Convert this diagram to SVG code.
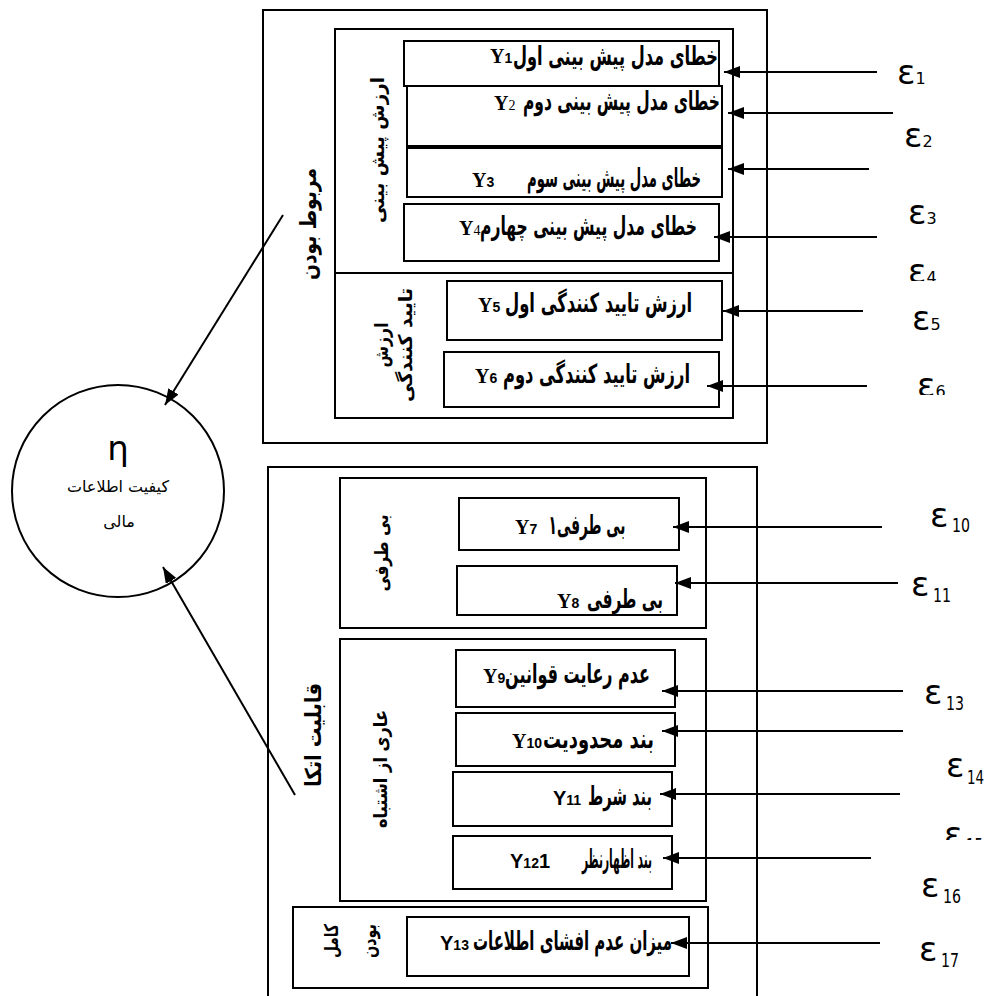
<svg xmlns="http://www.w3.org/2000/svg" width="995" height="996" viewBox="0 0 995 996">
<style>
.box{fill:none;stroke:#000;stroke-width:2}
.ln{stroke:#000;stroke-width:2;fill:none}
.ar{font-family:"DejaVu Sans",sans-serif;font-weight:bold;font-size:21px}
.y{font-family:"Liberation Serif",serif;font-weight:bold;font-size:20px}
.ys{font-family:"Liberation Sans",sans-serif;font-weight:bold;font-size:20px}
.sub{font-family:"Liberation Sans",sans-serif;font-weight:bold;font-size:14px}
.subs{font-family:"Liberation Serif",serif;font-weight:normal;font-size:14px}
.vl{font-family:"DejaVu Sans",sans-serif;font-weight:bold;font-size:19px}
.vlb{font-family:"DejaVu Sans",sans-serif;font-weight:bold;font-size:22px}
.eps{font-family:"DejaVu Sans",sans-serif;font-size:34px}
.es{font-size:16px}
.eb{font-family:"DejaVu Sans",sans-serif;font-size:20px}
.circ{font-family:"DejaVu Sans",sans-serif;font-size:16px}
</style>
<defs>
<marker id="ah" markerUnits="userSpaceOnUse" markerWidth="16" markerHeight="12" refX="16" refY="6" orient="auto"><path d="M0,0 L16,6 L0,12 z" fill="#000"/></marker>
<clipPath id="c3"><rect x="880" y="180" width="100" height="47"/></clipPath>
<clipPath id="c4"><rect x="880" y="240" width="100" height="41"/></clipPath>
<clipPath id="c5"><rect x="880" y="290" width="100" height="40"/></clipPath>
<clipPath id="c6"><rect x="880" y="360" width="100" height="35"/></clipPath>
<clipPath id="c15"><rect x="920" y="800" width="70" height="40"/></clipPath>
</defs>
<rect width="995" height="996" fill="#fff"/>

<g id="relevance">
<rect class="box" x="263" y="10" width="504" height="433"/>
<text class="vlb" text-anchor="middle" transform="translate(316,224) rotate(-90)" textLength="112" lengthAdjust="spacingAndGlyphs">مربوط بودن</text>
</g>
<g id="predictive-value">
<rect class="box" x="335" y="29" width="398" height="389"/>
<line class="ln" x1="335" y1="273" x2="733" y2="273"/>
<text class="vl" text-anchor="middle" transform="translate(384,150) rotate(-90)" textLength="146" lengthAdjust="spacingAndGlyphs">ارزش پیش بینی</text>
</g>
<g id="confirmatory-value">
<text class="vl" text-anchor="middle" transform="translate(388,345) rotate(-90)" textLength="45" lengthAdjust="spacingAndGlyphs">ارزش</text>
<text class="vl" text-anchor="middle" transform="translate(412,345) rotate(-90)" textLength="114" lengthAdjust="spacingAndGlyphs">تایید کنندگی</text>
</g>
<g id="y1">
<rect class="box" x="404" y="41" width="315" height="45"/>
<text class="ar" x="615.5" y="0" transform="translate(0,65) scale(1,1.25)" text-anchor="middle" textLength="205" lengthAdjust="spacingAndGlyphs">خطای مدل پیش بینی اول</text>
<text class="y" x="490" y="63">Y<tspan class="sub">1</tspan></text>
</g>
<g id="y2">
<rect class="box" x="407" y="86" width="315" height="60"/>
<text class="ar" x="621.5" y="0" transform="translate(0,110) scale(1,1.25)" text-anchor="middle" textLength="197" lengthAdjust="spacingAndGlyphs">خطای مدل پیش بینی دوم</text>
<text class="y" x="494" y="110">Y<tspan class="subs">2</tspan></text>
</g>
<g id="y3">
<rect class="box" x="407" y="148" width="315" height="49"/>
<text class="ar" x="614" y="0" transform="translate(0,187) scale(1,1.25)" text-anchor="middle" textLength="174" lengthAdjust="spacingAndGlyphs">خطای مدل پیش بینی سوم</text>
<text class="y" x="472" y="187">Y<tspan class="sub">3</tspan></text>
</g>
<g id="y4">
<rect class="box" x="404" y="204" width="315" height="57"/>
<text class="ar" x="588.5" y="0" transform="translate(0,235) scale(1,1.25)" text-anchor="middle" textLength="217" lengthAdjust="spacingAndGlyphs">خطای مدل پیش بینی چهارم</text>
<text class="y" x="459" y="235">Y<tspan class="subs">4</tspan></text>
</g>
<g id="y5">
<rect class="box" x="447" y="281" width="275" height="59"/>
<text class="ar" x="598.5" y="0" transform="translate(0,312) scale(1,1.25)" text-anchor="middle" textLength="187" lengthAdjust="spacingAndGlyphs">ارزش تایید کنندگی اول</text>
<text class="y" x="478" y="312">Y<tspan class="sub">5</tspan></text>
</g>
<g id="y6">
<rect class="box" x="444" y="352" width="275" height="55"/>
<text class="ar" x="596.5" y="0" transform="translate(0,383) scale(1,1.25)" text-anchor="middle" textLength="187" lengthAdjust="spacingAndGlyphs">ارزش تایید کنندگی دوم</text>
<text class="y" x="475" y="383">Y<tspan class="sub">6</tspan></text>
</g>

<g id="reliability">
<rect class="box" x="268" y="467" width="489" height="540"/>
<text class="vlb" text-anchor="middle" transform="translate(321,735) rotate(-90)" textLength="104" lengthAdjust="spacingAndGlyphs">قابلیت اتکا</text>
</g>
<g id="neutrality">
<rect class="box" x="340" y="478" width="366" height="150"/>
<text class="vl" text-anchor="middle" transform="translate(388,553) rotate(-90)" textLength="77" lengthAdjust="spacingAndGlyphs">بی طرفی</text>
</g>
<g id="free-from-error">
<rect class="box" x="340" y="639" width="366" height="262"/>
<text class="vl" text-anchor="middle" transform="translate(387,769) rotate(-90)" textLength="118" lengthAdjust="spacingAndGlyphs">عاری از اشتباه</text>
</g>
<g id="completeness">
<rect class="box" x="293" y="907" width="415" height="81"/>
<text class="vl" text-anchor="middle" transform="translate(338,941) rotate(-90)" textLength="34" lengthAdjust="spacingAndGlyphs">کامل</text>
<text class="vl" text-anchor="middle" transform="translate(376,941) rotate(-90)" textLength="34" lengthAdjust="spacingAndGlyphs">بودن</text>
</g>
<g id="y7">
<rect class="box" x="459" y="498" width="220" height="52"/>
<text class="ar" x="587" y="0" transform="translate(0,534) scale(1,1.25)" text-anchor="middle" textLength="77" lengthAdjust="spacingAndGlyphs">بی طرفی۱</text>
<text class="y" x="515" y="534">Y<tspan class="sub">7</tspan></text>
</g>
<g id="y8">
<rect class="box" x="457" y="566" width="220" height="49"/>
<text class="ar" x="625" y="0" transform="translate(0,608) scale(1,1.25)" text-anchor="middle" textLength="76" lengthAdjust="spacingAndGlyphs">بی طرفی</text>
<text class="y" x="557" y="608">Y<tspan class="sub">8</tspan></text>
</g>
<g id="y9">
<rect class="box" x="456" y="650" width="219" height="57"/>
<text class="ar" x="577.5" y="0" transform="translate(0,683) scale(1,1.25)" text-anchor="middle" textLength="145" lengthAdjust="spacingAndGlyphs">عدم رعایت قوانین</text>
<text class="y" x="483" y="683">Y<tspan class="sub">9</tspan></text>
</g>
<g id="y10">
<rect class="box" x="456" y="713" width="219" height="53"/>
<text class="ar" x="598.5" y="0" transform="translate(0,748) scale(1,1.25)" text-anchor="middle" textLength="111" lengthAdjust="spacingAndGlyphs">بند محدودیت</text>
<text class="y" x="512" y="748">Y<tspan class="sub">10</tspan></text>
</g>
<g id="y11">
<rect class="box" x="453" y="772" width="219" height="54"/>
<text class="ar" x="620" y="0" transform="translate(0,805) scale(1,1.25)" text-anchor="middle" textLength="64" lengthAdjust="spacingAndGlyphs">بند شرط</text>
<text class="ys" x="553" y="805">Y<tspan class="sub">11</tspan></text>
</g>
<g id="y12">
<rect class="box" x="453" y="836" width="219" height="53"/>
<text class="ar" x="617" y="0" transform="translate(0,868) scale(1,1.25)" text-anchor="middle" textLength="70" lengthAdjust="spacingAndGlyphs">بند اظهارنظر</text>
<text class="ys" x="510" y="868">Y<tspan class="sub">12</tspan>1</text>
</g>
<g id="y13">
<rect class="box" x="407" y="917" width="282" height="59"/>
<text class="ar" x="572.5" y="0" transform="translate(0,950) scale(1,1.25)" text-anchor="middle" textLength="199" lengthAdjust="spacingAndGlyphs">میزان عدم افشای اطلاعات</text>
<text class="ys" x="440" y="950">Y<tspan class="sub">13</tspan></text>
</g>

<g id="eta">
<circle cx="118" cy="491" r="106" fill="none" stroke="#000" stroke-width="2"/>
<text class="eps" x="118" y="460" text-anchor="middle">η</text>
<text class="circ" x="118" y="492" text-anchor="middle" textLength="102" lengthAdjust="spacingAndGlyphs">کیفیت اطلاعات</text>
<text class="circ" x="119" y="527" text-anchor="middle">مالی</text>
</g>

<g id="errors">
<text class="eps" x="897" y="84">ε<tspan class="es">1</tspan></text>
<text class="eps" x="904" y="147">ε<tspan class="es">2</tspan></text>
<text class="eps" x="908" y="224" clip-path="url(#c3)">ε<tspan class="es">3</tspan></text>
<text class="eps" x="908" y="283" clip-path="url(#c4)">ε<tspan class="es">4</tspan></text>
<text class="eps" x="912" y="330" clip-path="url(#c5)">ε<tspan class="es">5</tspan></text>
<text class="eps" x="917" y="397" clip-path="url(#c6)">ε<tspan class="es">6</tspan></text>
<text class="eps" x="930" y="527">ε</text><text class="eb" x="952" y="532" textLength="18" lengthAdjust="spacingAndGlyphs">10</text>
<text class="eps" x="911" y="596">ε</text><text class="eb" x="933" y="602" textLength="18" lengthAdjust="spacingAndGlyphs">11</text>
<text class="eps" x="924" y="704">ε</text><text class="eb" x="946" y="710" textLength="18" lengthAdjust="spacingAndGlyphs">13</text>
<text class="eps" x="946" y="777">ε</text><text class="eb" x="967" y="784" textLength="17" lengthAdjust="spacingAndGlyphs">14</text>
<g clip-path="url(#c15)"><text class="eps" x="944" y="846">ε</text><text class="eb" x="966" y="852" textLength="17" lengthAdjust="spacingAndGlyphs">15</text></g>
<text class="eps" x="921" y="897">ε</text><text class="eb" x="943" y="903" textLength="18" lengthAdjust="spacingAndGlyphs">16</text>
<text class="eps" x="919" y="961">ε</text><text class="eb" x="941" y="967" textLength="18" lengthAdjust="spacingAndGlyphs">17</text>
</g>

<g id="connectors">
<line class="ln" x1="877" y1="72" x2="724" y2="72" marker-end="url(#ah)"/>
<line class="ln" x1="893" y1="113" x2="728" y2="113" marker-end="url(#ah)"/>
<line class="ln" x1="869" y1="169" x2="728" y2="169" marker-end="url(#ah)"/>
<line class="ln" x1="877" y1="237" x2="714" y2="237" marker-end="url(#ah)"/>
<line class="ln" x1="863" y1="311" x2="723" y2="311" marker-end="url(#ah)"/>
<line class="ln" x1="867" y1="386" x2="707" y2="386" marker-end="url(#ah)"/>
<line class="ln" x1="882" y1="527" x2="673" y2="527" marker-end="url(#ah)"/>
<line class="ln" x1="898" y1="583" x2="675" y2="583" marker-end="url(#ah)"/>
<line class="ln" x1="903" y1="691" x2="662" y2="691" marker-end="url(#ah)"/>
<line class="ln" x1="903" y1="731" x2="662" y2="731" marker-end="url(#ah)"/>
<line class="ln" x1="900" y1="794" x2="660" y2="794" marker-end="url(#ah)"/>
<line class="ln" x1="871" y1="858" x2="663" y2="858" marker-end="url(#ah)"/>
<line class="ln" x1="880" y1="943" x2="671" y2="943" marker-end="url(#ah)"/>
<line class="ln" x1="283" y1="215" x2="165" y2="405" marker-end="url(#ah)"/>
<line class="ln" x1="295" y1="795" x2="163" y2="567" marker-end="url(#ah)"/>
</g>
</svg>
